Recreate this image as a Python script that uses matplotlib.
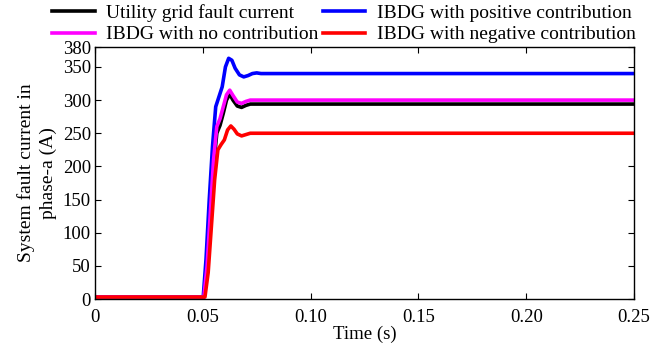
import matplotlib
matplotlib.use("Agg")
import matplotlib.pyplot as plt

plt.rcParams['font.family'] = ['Liberation Serif', 'DejaVu Serif']
plt.rcParams['mathtext.fontset'] = 'stix'

# --- data ---
t_black = [0, 0.0505, 0.052, 0.0535, 0.055, 0.0565, 0.058, 0.0595, 0.061, 0.0625, 0.064, 0.066, 0.068, 0.070, 0.072, 0.25]
i_black = [3, 3, 45, 120, 200, 250, 262, 280, 300, 309, 300, 291, 289, 292, 294, 294]

t_blue = [0, 0.0502, 0.0515, 0.053, 0.0545, 0.056, 0.0575, 0.059, 0.0605, 0.062, 0.0635, 0.065, 0.067, 0.069, 0.071, 0.073, 0.075, 0.077, 0.25]
i_blue = [3, 3, 60, 150, 230, 290, 305, 320, 350, 363, 360, 348, 338, 335, 337, 340, 341, 340, 340]

t_mag = [0, 0.0505, 0.052, 0.0535, 0.055, 0.0565, 0.058, 0.0595, 0.061, 0.0625, 0.064, 0.066, 0.068, 0.070, 0.072, 0.25]
i_mag = [3, 3, 50, 130, 210, 260, 272, 290, 308, 315, 307, 297, 295, 298, 300, 300]

t_red = [0, 0.051, 0.0525, 0.054, 0.0555, 0.057, 0.0585, 0.060, 0.0615, 0.063, 0.0645, 0.066, 0.068, 0.070, 0.072, 0.25]
i_red = [3, 3, 40, 110, 180, 225, 233, 240, 255, 261, 256, 249, 246, 248, 250, 250]

xticks = [0, 0.05, 0.10, 0.15, 0.20, 0.25]
xlabels = ['0', '0.05', '0.10', '0.15', '0.20', '0.25']
yticks = [0, 50, 100, 150, 200, 250, 300, 350, 380]

fs = 13.5
fig = plt.figure(figsize=(6.55, 3.51), dpi=100)
ax = fig.add_axes([0.145, 0.148, 0.823, 0.718])

lw = 2.6
l1, = ax.plot(t_black, i_black, color='black', lw=lw, label='Utility grid fault current')
l2, = ax.plot(t_blue, i_blue, color='blue', lw=lw, label='IBDG with positive contribution')
l3, = ax.plot(t_mag, i_mag, color='magenta', lw=lw, label='IBDG with no contribution')
l4, = ax.plot(t_red, i_red, color='red', lw=lw, label='IBDG with negative contribution')

ax.set_xlim(0, 0.25)
ax.set_ylim(0, 380)
ax.set_xticks(xticks)
ax.set_xticklabels(xlabels)
ax.set_yticks(yticks)
ax.tick_params(direction='in', top=True, right=True, labelsize=fs, length=4)
ax.tick_params(axis='x', pad=7)
ax.tick_params(axis='y', pad=3)
for s in ax.spines.values():
    s.set_linewidth(1.0)

ax.set_xlabel('Time (s)', fontsize=fs, labelpad=0)
ax.set_ylabel('System fault current in\nphase-a (A)', fontsize=14, labelpad=4, linespacing=1.35)

fig.legend(handles=[l1, l3, l2, l4], ncol=2, frameon=False, fontsize=14,
           loc='upper left', bbox_to_anchor=(52 / 655, 1 - 4 / 351),
           handlelength=2.2, handletextpad=0.6, columnspacing=0.2,
           labelspacing=0.2, borderaxespad=0, borderpad=0)

fig.savefig('out.png', dpi=100)
